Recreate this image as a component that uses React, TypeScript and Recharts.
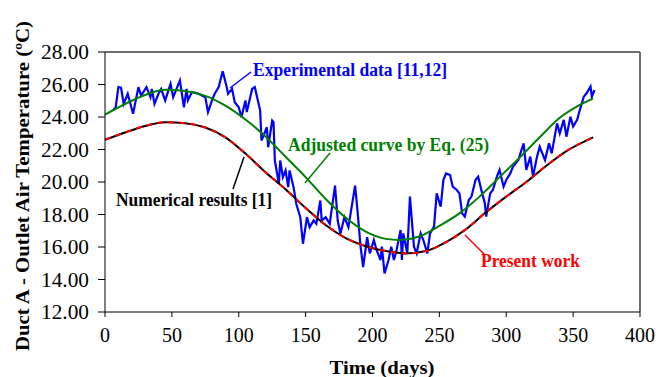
import React from 'react';
import { LineChart, Line, XAxis, YAxis, ReferenceLine } from 'recharts';

// ─── Data ─────────────────────────────────────────────────────────────────────

const X_TICKS = [0, 50, 100, 150, 200, 250, 300, 350, 400];
const Y_TICKS = [12, 14, 16, 18, 20, 22, 24, 26, 28];

// Experimental data [11,12]
const expDays = [
  6, 8, 10, 12, 14, 17, 21, 25, 27, 31, 34, 35, 37, 40, 42, 45, 49, 51, 56, 59,
  61, 62, 65, 70, 75, 77, 80, 82, 85, 88, 91, 92, 95, 97, 100, 102, 105, 106, 110, 112,
  116, 117, 121, 122, 125, 126, 127, 130, 131, 133, 135, 137, 138, 141, 143, 146, 148, 151, 153, 156,
  158, 161, 162, 165, 168, 172, 174, 176, 179, 182, 184, 187, 189, 191, 193, 196, 198, 201, 203, 206,
  207, 209, 212, 214, 216, 218, 221, 222, 223, 226, 228, 231, 233, 236, 238, 241, 243, 246, 248, 251,
  253, 255, 258, 260, 263, 265, 267, 269, 272, 274, 277, 279, 282, 284, 285, 288, 290, 293, 295, 298,
  300, 303, 305, 309, 313, 315, 318, 320, 323, 325, 329, 332, 334, 338, 340, 343, 345, 348, 350, 353,
  355, 358, 360, 363, 364, 366,
];
const expTemps = [
  24.4, 24.6, 25.84, 25.8, 24.81, 25.43, 24.2, 25.84, 25.32, 25.84, 25.22, 25.73, 24.81, 25.43, 25.73, 25.02, 26.04, 25.22, 26.25, 24.6,
  25.73, 25.02, 25.53, 25.43, 25.22, 24.3, 25.02, 25.43, 25.84, 26.82, 25.84, 25.43, 25.73, 24.91, 24.6, 23.99, 25.02, 24.3, 25.73, 25.84,
  24.4, 22.55, 23.37, 22.14, 23.78, 23.68, 21.32, 19.89, 21.32, 20.3, 20.71, 19.68, 20.71, 19.68, 18.66, 17.84, 16.2, 17.84, 17.22, 17.63,
  17.43, 18.86, 17.63, 17.84, 17.43, 19.78, 17.63, 16.81, 17.84, 17.22, 18.25, 19.78, 18.04, 16.09, 14.76, 16.6, 15.61, 16.43, 15.82, 15.2,
  16.02, 14.38, 15.2, 16.02, 15.2, 15.82, 17.05, 15.2, 16.84, 15.61, 19.1, 16.02, 15.61, 16.84, 16.43, 15.61, 16.84, 17.25, 19.3, 18.48,
  20.12, 20.53, 20.43, 19.71, 19.51, 19.3, 18.07, 17.87, 18.89, 19.1, 20.12, 20.33, 19.3, 18.69, 17.87, 19.3, 19.51, 20.33, 20.74, 19.71,
  20.12, 20.53, 20.94, 21.35, 22.38, 20.74, 21.56, 20.33, 21.56, 22.17, 21.35, 22.38, 21.76, 23.61, 22.99, 23.82, 22.79, 24.02, 23.41, 23.82,
  24.43, 25.25, 25.46, 25.87, 25.25, 25.66,
];

// Adjusted curve by Eq. (25)
const fitDays = [0, 15, 30, 45, 60, 75, 90, 105, 120, 135, 150, 165, 180, 195, 210, 220, 235, 250, 265, 280, 295, 310, 325, 340, 355, 365];
const fitTemps = [24.15, 24.8, 25.35, 25.67, 25.6, 25.3, 24.7, 23.85, 22.8, 21.55, 20.3, 18.95, 17.8, 16.95, 16.5, 16.43, 16.65, 17.3, 18.07, 19.1, 20.3, 21.5, 22.75, 23.95, 24.75, 25.15];

// Numerical results [1] / Present work
const simDays = [0, 15, 30, 45, 60, 75, 90, 105, 120, 135, 150, 165, 180, 195, 210, 225, 240, 255, 270, 285, 300, 315, 330, 345, 365];
const simTemps = [22.6, 23.05, 23.45, 23.68, 23.62, 23.35, 22.75, 21.75, 20.6, 19.55, 18.4, 17.35, 16.55, 16.05, 15.75, 15.6, 15.75, 16.3, 17.1, 18.15, 19.1, 20.0, 21.0, 21.9, 22.75];

const expData = expDays.map((d, i) => ({ day: d, t: expTemps[i] }));
const fitData = fitDays.map((d, i) => ({ day: d, t: fitTemps[i] }));
const simData = simDays.map((d, i) => ({ day: d, t: simTemps[i] }));

const FONT = "'Liberation Serif', serif";

// y tick labels are a bit wider in the source image, stretch them to fit
const YTick = ({ x, y, payload }: any) => (
  <text
    x={x}
    y={y}
    dy="0.355em"
    textAnchor="end"
    fill="#000"
    fontSize={20}
    fontFamily={FONT}
    textLength={48}
    lengthAdjust="spacingAndGlyphs"
  >
    {Number(payload.value).toFixed(2)}
  </text>
);

export default function App() {
  return (
    <div style={{ position: 'absolute', left: 0, top: 0, width: 659, height: 377, background: '#fff' }}>
      <LineChart width={659} height={377} margin={{ top: 52, right: 19, left: 0, bottom: 0 }}>
        <XAxis
          dataKey="day"
          type="number"
          domain={[0, 400]}
          ticks={X_TICKS}
          allowDuplicatedCategory={false}
          height={65}
          tickSize={5}
          tickMargin={11}
          axisLine={{ stroke: '#000' }}
          tickLine={{ stroke: '#000' }}
          tick={{ fill: '#000', fontSize: 20, fontFamily: FONT }}
        />
        <YAxis
          type="number"
          domain={[12, 28]}
          ticks={Y_TICKS}
          width={105}
          tickSize={7}
          tickMargin={9}
          axisLine={{ stroke: '#000' }}
          tickLine={{ stroke: '#000' }}
          tick={<YTick />}
        />
        <ReferenceLine y={28} stroke="#6e6e6e" strokeWidth={2} />
        <ReferenceLine x={400} stroke="#6e6e6e" strokeWidth={2} />
        <Line data={expData} dataKey="t" type="linear" stroke="#0000ff" strokeWidth={2.2} dot={false} isAnimationActive={false} />
        <Line data={fitData} dataKey="t" type="monotone" stroke="#008000" strokeWidth={2} dot={false} isAnimationActive={false} />
        <Line data={simData} dataKey="t" type="monotone" stroke="#000" strokeWidth={2} dot={false} isAnimationActive={false} />
        <Line data={simData} dataKey="t" type="monotone" stroke="#ff0000" strokeWidth={2} strokeDasharray="6 5" dot={false} isAnimationActive={false} />
      </LineChart>

      <svg width={659} height={377} style={{ position: 'absolute', left: 0, top: 0, pointerEvents: 'none' }}>
        <g fontFamily={FONT} fontWeight="bold" fontSize={18}>
          <line x1={230} y1={88} x2={251} y2={72} stroke="#0000ff" strokeWidth={1.5} />
          <text x={253} y={76} fill="#0000ff" textLength={194} lengthAdjust="spacingAndGlyphs">Experimental data [11,12]</text>

          <line x1={330} y1={153} x2={305} y2={183} stroke="#008000" strokeWidth={1.5} />
          <text x={288} y={151} fill="#008000" textLength={201} lengthAdjust="spacingAndGlyphs">Adjusted curve by Eq. (25)</text>

          <line x1={233} y1={189} x2={244} y2={157} stroke="#000" strokeWidth={1.5} />
          <text x={116} y={206} fill="#000" textLength={156} lengthAdjust="spacingAndGlyphs">Numerical results [1]</text>

          <line x1={485} y1={255} x2={465} y2={235} stroke="#ff0000" strokeWidth={1.5} />
          <text x={481} y={267} fill="#ff0000" textLength={99} lengthAdjust="spacingAndGlyphs">Present work</text>

          <text x={382} y={374} textAnchor="middle" fill="#000" fontSize={19} textLength={105} lengthAdjust="spacingAndGlyphs">
            Time (days)
          </text>
          <text
            transform="translate(29,186) rotate(-90)"
            textAnchor="middle"
            fill="#000"
            fontSize={19}
            textLength={330}
            lengthAdjust="spacingAndGlyphs"
          >
            Duct A - Outlet Air Temperature (ºC)
          </text>
        </g>
      </svg>
    </div>
  );
}
